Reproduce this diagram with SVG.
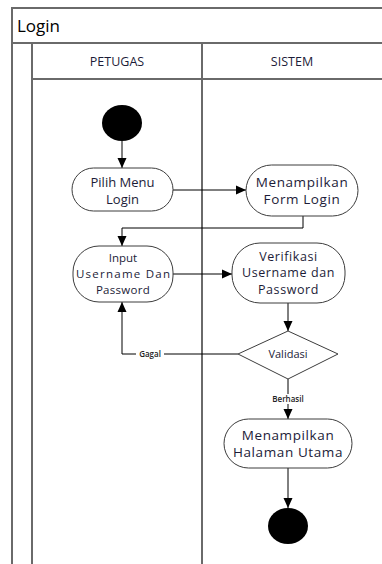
<svg xmlns="http://www.w3.org/2000/svg" width="382" height="564" viewBox="0 0 382 564">
  <style>
    .frame { stroke: #6a6a6a; stroke-width: 2; fill: none; }
    .node { fill: #ffffff; stroke: #3c3c3c; stroke-width: 1; }
    .txt { font-family: "Open Sans", "Noto Sans", sans-serif; fill: #1c1c38; text-anchor: middle; }
    .lbl { font-family: "Open Sans", "Noto Sans", sans-serif; fill: #222222; font-size: 8px; font-weight: 600; text-anchor: middle; }
    .edge { stroke: #000000; stroke-width: 1; fill: none; marker-end: url(#arrow); }
  </style>
  <defs>
    <marker id="arrow" markerUnits="userSpaceOnUse" markerWidth="10" markerHeight="10" viewBox="0 0 10 10" refX="10" refY="5" orient="auto">
      <path d="M0,0.5 L10,5 L0,9.5 Z" fill="#000000"/>
    </marker>
  </defs>
  <rect width="382" height="564" fill="#ffffff"/>

  <!-- swimlane frame -->
  <g id="swimlanes">
    <path class="frame" d="M12,564 V8 H382"/>
    <path class="frame" d="M12,43 H382"/>
    <path class="frame" d="M32,43 V564"/>
    <path class="frame" d="M202,43 V564"/>
    <path class="frame" d="M32,79 H382"/>
    <text x="17" y="32" font-family="Open Sans, Noto Sans, sans-serif" font-size="17" fill="#000000">Login</text>
    <text class="txt" x="117" y="66" font-size="12.5">PETUGAS</text>
    <text class="txt" x="292" y="66" font-size="12.5">SISTEM</text>
  </g>

  <!-- connectors -->
  <g id="connectors">
    <path class="edge" d="M122,141 V168"/>
    <path class="edge" d="M173,190 H246"/>
    <path class="edge" d="M303,216 V228 H122 V246"/>
    <path class="edge" d="M173,274 H232"/>
    <path class="edge" d="M288,303 V331"/>
    <path class="edge" d="M238,354 H122 V302"/>
    <path class="edge" d="M288,379 V419"/>
    <path class="edge" d="M288,468 V508"/>
    <rect x="136" y="349" width="28" height="10" fill="#ffffff"/>
    <text class="lbl" x="150" y="357">Gagal</text>
    <rect x="270" y="394" width="37" height="10" fill="#ffffff"/>
    <text class="lbl" x="288" y="402">Berhasil</text>
  </g>

  <g id="start">
    <ellipse cx="122" cy="123" rx="20" ry="18" fill="#000000"/>
  </g>

  <g id="pilih-menu">
    <rect class="node" x="72" y="168" width="101" height="43" rx="21.5"/>
    <text class="txt" x="122.5" y="187" font-size="13">Pilih Menu</text>
    <text class="txt" x="122.5" y="204" font-size="13">Login</text>
  </g>

  <g id="form-login">
    <rect class="node" x="246" y="165" width="112" height="51" rx="25.5"/>
    <text class="txt" x="302" y="187" font-size="13.5" letter-spacing="0.6">Menampilkan</text>
    <text class="txt" x="302" y="204" font-size="13.5" letter-spacing="0.6">Form Login</text>
  </g>

  <g id="input-user">
    <rect class="node" x="73" y="246" width="100" height="56" rx="26"/>
    <text class="txt" x="123" y="262" font-size="11.5">Input</text>
    <text class="txt" x="123" y="278" font-size="11.5" textLength="94" lengthAdjust="spacing">Username Dan</text>
    <text class="txt" x="123" y="294" font-size="11.5" letter-spacing="0.3">Password</text>
  </g>

  <g id="verifikasi">
    <rect class="node" x="232" y="243" width="113" height="60" rx="28"/>
    <text class="txt" x="288.5" y="261" font-size="12.5" letter-spacing="0.6">Verifikasi</text>
    <text class="txt" x="288.5" y="277" font-size="12.5" letter-spacing="0.6">Username dan</text>
    <text class="txt" x="288.5" y="294" font-size="12.5" letter-spacing="0.6">Password</text>
  </g>

  <g id="validasi">
    <polygon class="node" points="288,331 338,354 288,379 238,354"/>
    <text class="txt" x="288" y="358" font-size="11">Validasi</text>
  </g>

  <g id="halaman-utama">
    <rect class="node" x="224" y="419" width="128" height="49" rx="24.5"/>
    <text class="txt" x="288" y="440" font-size="13.5" letter-spacing="0.6">Menampilkan</text>
    <text class="txt" x="288" y="457" font-size="13.5" letter-spacing="0.6">Halaman Utama</text>
  </g>

  <g id="end">
    <ellipse cx="288" cy="526" rx="20" ry="18" fill="#000000"/>
  </g>
</svg>
